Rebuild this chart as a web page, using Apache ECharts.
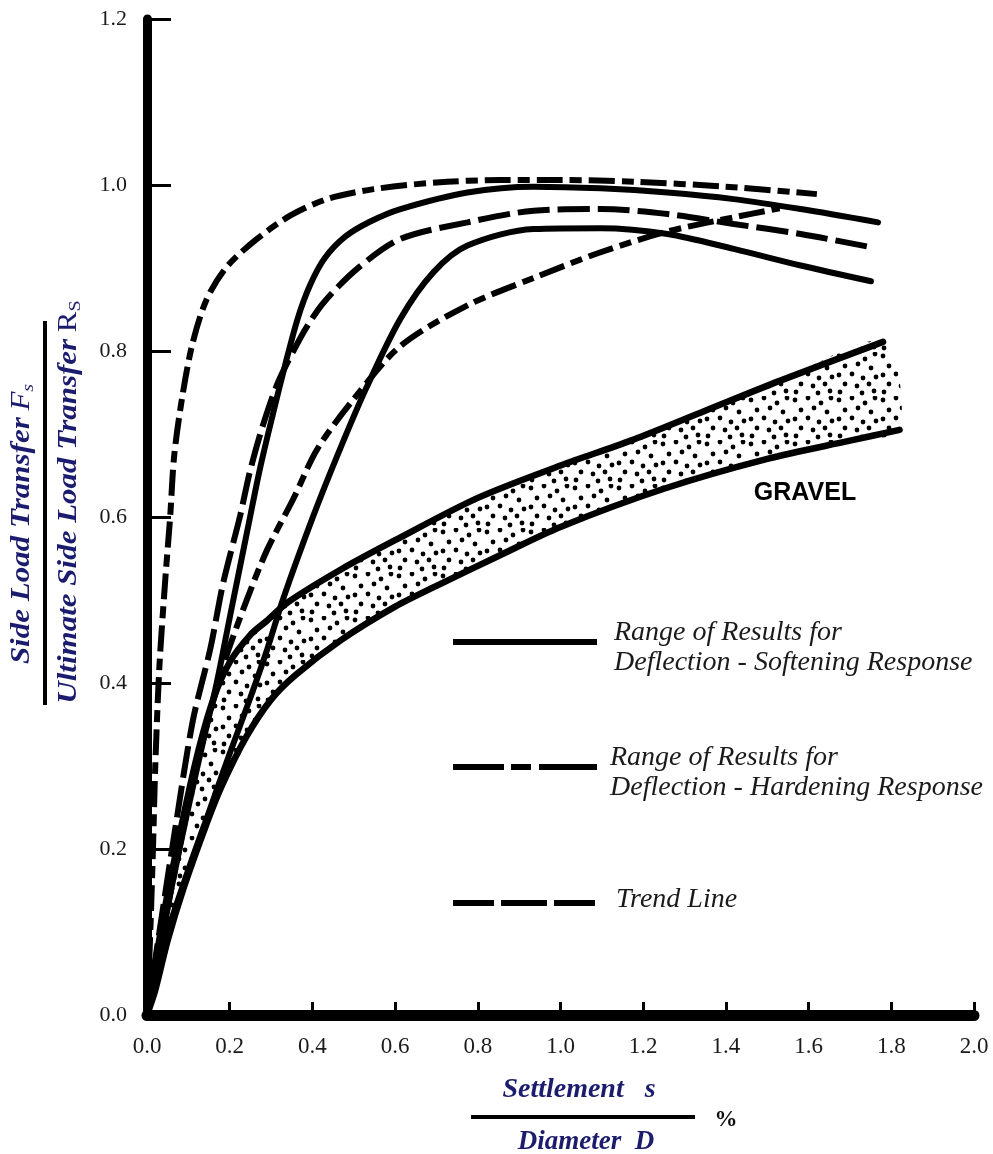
<!DOCTYPE html>
<html>
<head>
<meta charset="utf-8">
<script src="https://cdn.jsdelivr.net/npm/echarts/dist/echarts.min.js"></script>
<style>
html,body{margin:0;padding:0;background:#ffffff;}
#chart{width:993px;height:1154px;}
</style>
</head>
<body>
<div id="chart"></div>
<script>
// ---- axis ticks ----
const xTickValues = [0.0,0.2,0.4,0.6,0.8,1.0,1.2,1.4,1.6,1.8,2.0];
const yTickValues = [0.0,0.2,0.4,0.6,0.8,1.0,1.2];

// ---- curves: [settlement/diameter %, Fs/Rs] ----
const hardeningUpper = [[0,0],[0.005,0.06],[0.01,0.13],[0.015,0.21],[0.02,0.3],[0.03,0.42],[0.045,0.53],[0.056,0.6],[0.066,0.675],[0.087,0.75],[0.111,0.811],[0.145,0.863],[0.194,0.902],[0.266,0.935],[0.346,0.963],[0.435,0.983],[0.548,0.995],[0.7,1.003],[0.855,1.006],[1.0,1.006],[1.18,1.004],[1.4,0.998],[1.62,0.989]];
const softeningUpper = [[0,0],[0.03,0.075],[0.06,0.155],[0.1,0.25],[0.136,0.33],[0.169,0.401],[0.201,0.481],[0.242,0.582],[0.274,0.66],[0.305,0.725],[0.335,0.785],[0.365,0.84],[0.395,0.88],[0.43,0.912],[0.48,0.938],[0.54,0.956],[0.613,0.971],[0.775,0.991],[0.935,0.998],[1.097,0.996],[1.259,0.991],[1.419,0.983],[1.581,0.971],[1.768,0.955]];
const trendLine = [[0,0],[0.03,0.1],[0.07,0.23],[0.111,0.355],[0.153,0.441],[0.184,0.52],[0.225,0.601],[0.249,0.655],[0.28,0.71],[0.315,0.76],[0.354,0.80],[0.39,0.832],[0.43,0.86],[0.508,0.899],[0.613,0.935],[0.775,0.955],[0.935,0.969],[1.097,0.971],[1.259,0.965],[1.419,0.953],[1.581,0.941],[1.751,0.925]];
const softeningLower = [[0,0],[0.05,0.1],[0.1,0.175],[0.15,0.245],[0.2,0.315],[0.249,0.381],[0.291,0.441],[0.329,0.501],[0.402,0.601],[0.467,0.682],[0.53,0.755],[0.613,0.839],[0.693,0.895],[0.775,0.927],[0.935,0.947],[1.097,0.948],[1.259,0.941],[1.419,0.923],[1.581,0.903],[1.751,0.884]];
const hardeningLower = [[0,0],[0.03,0.08],[0.07,0.18],[0.12,0.3],[0.184,0.42],[0.242,0.501],[0.291,0.561],[0.354,0.622],[0.412,0.682],[0.5,0.742],[0.613,0.806],[0.775,0.855],[0.935,0.888],[1.097,0.919],[1.259,0.944],[1.419,0.961],[1.53,0.972]];
const gravelUpper = [[0,0],[0.04,0.12],[0.08,0.22],[0.12,0.31],[0.16,0.38],[0.2,0.425],[0.25,0.458],[0.29,0.475],[0.34,0.497],[0.47,0.537],[0.6,0.572],[0.8,0.623],[1.0,0.662],[1.17,0.692],[1.35,0.728],[1.53,0.764],[1.78,0.811]];
const gravelLower = [[0,0],[0.02,0.03],[0.05,0.09],[0.09,0.155],[0.14,0.225],[0.18,0.275],[0.24,0.335],[0.3,0.38],[0.36,0.41],[0.47,0.452],[0.6,0.492],[0.7,0.517],[0.85,0.553],[1.0,0.588],[1.25,0.634],[1.5,0.670],[1.7,0.692],[1.82,0.705]];

// ---- texts ----
const legendTexts = ['Range of Results for\nDeflection - Softening Response','Range of Results for\nDeflection - Hardening Response','Trend Line'];
const gravelLabel = 'GRAVEL';

const NAVY = '#1c1c6e';

// stipple texture for the gravel band
function makeStipple(){
  const c = document.createElement('canvas');
  c.width = 44; c.height = 44;
  const g = c.getContext('2d');
  g.fillStyle = '#ffffff'; g.fillRect(0,0,44,44);
  g.fillStyle = '#000000';
  const dots = [[3,4],[16,2],[29,7],[39,2],[9,14],[22,12],[35,16],[3,23],[16,22],[27,26],[40,25],[9,32],[21,34],[33,32],[4,40],[26,41],[38,39]];
  dots.forEach(d=>{ g.beginPath(); g.arc(d[0],d[1],2.4,0,Math.PI*2); g.fill(); });
  return c;
}
const stipple = makeStipple();

const chart = echarts.init(document.getElementById('chart'), null, {renderer:'canvas'});

function lineSeries(name, data, dash, width){
  return {
    name: name, type:'line', data:data, showSymbol:false, smooth:0.3,
    clip:false, z:3,
    lineStyle:{color:'#000', width:width||6, type: dash ? dash : 'solid', cap: dash ? 'butt':'round'}
  };
}

const option = {
  animation:false,
  backgroundColor:'#ffffff',
  grid:{left:147, right:19, top:19, bottom:139, containLabel:false, outerBoundsMode:'none'},
  xAxis:{
    type:'value', min:0, max:2, interval:0.2,
    axisLine:{show:true, onZero:false, lineStyle:{color:'#000', width:11}},
    axisTick:{show:true, inside:true, length:13, lineStyle:{color:'#000', width:3}},
    axisLabel:{show:true, margin:20, fontFamily:'Liberation Serif', fontSize:23, color:'#1a1a1a',
      formatter:v=>v.toFixed(1)},
    splitLine:{show:false}
  },
  yAxis:{
    type:'value', min:0, max:1.2, interval:0.2,
    axisLine:{show:true, onZero:false, lineStyle:{color:'#000', width:9}},
    axisTick:{show:true, inside:true, length:24, lineStyle:{color:'#000', width:3}},
    axisLabel:{show:true, margin:20, fontFamily:'Liberation Serif', fontSize:22, color:'#1a1a1a',
      formatter:v=>v.toFixed(1)},
    splitLine:{show:false}
  },
  series:[
    {
      name:'Gravel', type:'custom', z:1, clip:false,
      data:[[0,0]],
      renderItem:function(params, api){
        const pts = gravelUpper.concat(gravelLower.slice().reverse()).map(p=>api.coord(p));
        return {type:'polygon', shape:{points:pts, smooth:0.3}, style:{fill:{image:stipple, repeat:'repeat'}, stroke:null}};
      }
    },
    lineSeries('Gravel upper', gravelUpper, null, 6.5),
    lineSeries('Gravel lower', gravelLower, null, 6.5),
    lineSeries('Softening upper', softeningUpper, null, 6),
    lineSeries('Softening lower', softeningLower, null, 6),
    lineSeries('Hardening upper', hardeningUpper, [26,7,12,7], 6),
    lineSeries('Hardening lower', hardeningLower, [26,7,12,7], 6),
    lineSeries('Trend Line', trendLine, [32,8], 6)
  ],
  graphic:[
    // y axis name as a fraction
    {type:'group', x:45, y:513, rotation:Math.PI/2, children:[
      {type:'line', shape:{x1:-192,y1:0,x2:192,y2:0}, style:{stroke:'#000', lineWidth:4}},
      {type:'text', x:-11, y:-23, scaleY:0.85, style:{
        text:'{b|Side Load Transfer}  {f|F}{s|s}', align:'center', verticalAlign:'middle',
        rich:{
          b:{fontFamily:'Liberation Serif', fontStyle:'italic', fontWeight:'bold', fontSize:31, fill:NAVY},
          f:{fontFamily:'Liberation Serif', fontStyle:'italic', fontSize:31, fill:NAVY},
          s:{fontFamily:'Liberation Serif', fontStyle:'italic', fontSize:20, fill:NAVY, padding:[16,0,0,0]}
        }}},
      {type:'text', x:11, y:24, scaleY:0.85, style:{
        text:'{b|Ultimate Side Load Transfer}  {r|R}{s|S}', align:'center', verticalAlign:'middle',
        rich:{
          b:{fontFamily:'Liberation Serif', fontStyle:'italic', fontWeight:'bold', fontSize:31, fill:NAVY},
          r:{fontFamily:'Liberation Serif', fontSize:31, fill:NAVY},
          s:{fontFamily:'Liberation Serif', fontSize:20, fill:NAVY, padding:[16,0,0,0]}
        }}}
    ]},
    // x axis name as a fraction
    {type:'text', x:579, y:1090, style:{text:'Settlement   s', align:'center', verticalAlign:'middle',
      font:'italic bold 28px "Liberation Serif"', fill:NAVY}},
    {type:'line', shape:{x1:471,y1:1117,x2:695,y2:1117}, style:{stroke:'#000', lineWidth:4}},
    {type:'text', x:586, y:1142, style:{text:'Diameter  D', align:'center', verticalAlign:'middle',
      font:'italic bold 27px "Liberation Serif"', fill:NAVY}},
    {type:'text', x:726, y:1120, style:{text:'%', align:'center', verticalAlign:'middle',
      font:'bold 23px "Liberation Serif"', fill:'#111'}},
    // GRAVEL label
    {type:'text', x:805, y:493, style:{text:gravelLabel, align:'center', verticalAlign:'middle',
      font:'bold 25px "Liberation Sans"', fill:'#000'}},
    // legend
    {type:'line', shape:{x1:453,y1:642,x2:597,y2:642}, style:{stroke:'#000', lineWidth:6}},
    {type:'text', x:614, y:648, style:{text:legendTexts[0], align:'left', verticalAlign:'middle', lineHeight:30,
      font:'italic 28px "Liberation Serif"', fill:'#1a1a1a'}},
    {type:'line', shape:{x1:453,y1:767,x2:597,y2:767}, style:{stroke:'#000', lineWidth:6, lineDash:[51,7,20,8,60,100]}},
    {type:'text', x:610, y:773, style:{text:legendTexts[1], align:'left', verticalAlign:'middle', lineHeight:30,
      font:'italic 28px "Liberation Serif"', fill:'#1a1a1a'}},
    {type:'line', shape:{x1:453,y1:903,x2:596,y2:903}, style:{stroke:'#000', lineWidth:6, lineDash:[41,7,46,7,41,100]}},
    {type:'text', x:616, y:900, style:{text:legendTexts[2], align:'left', verticalAlign:'middle',
      font:'italic 28px "Liberation Serif"', fill:'#1a1a1a'}}
  ]
};
chart.setOption(option);
</script>
</body>
</html>
